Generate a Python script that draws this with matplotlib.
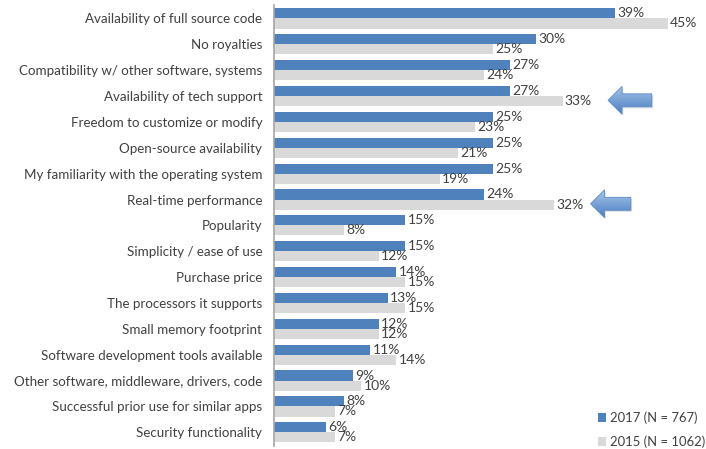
import numpy as np
import matplotlib.pyplot as plt
from matplotlib.patches import Polygon
from matplotlib.colors import LinearSegmentedColormap

# survey answers, top to bottom
factors = [
    'Availability of full source code',
    'No royalties',
    'Compatibility w/ other software, systems',
    'Availability of tech support',
    'Freedom to customize or modify',
    'Open-source availability',
    'My familiarity with the operating system',
    'Real-time performance',
    'Popularity',
    'Simplicity / ease of use',
    'Purchase price',
    'The processors it supports',
    'Small memory footprint',
    'Software development tools available',
    'Other software, middleware, drivers, code',
    'Successful prior use for similar apps',
    'Security functionality',
]
pct_2017 = [39, 30, 27, 27, 25, 25, 25, 24, 15, 15, 14, 13, 12, 11, 9, 8, 6]
pct_2015 = [45, 25, 24, 33, 23, 21, 19, 32, 8, 12, 15, 15, 12, 14, 10, 7, 7]
label_2017 = '2017 (N = 767)'
label_2015 = '2015 (N = 1062)'

# rows that get a callout arrow, and how far past the 2015 bar the tip sits
callouts = {3: 5.2, 7: 4.2}

BLUE = '#4F81BD'
GREY = '#D9D9D9'
TEXT = '#404040'

plt.rcParams['font.family'] = ['Lato', 'DejaVu Sans']

fig = plt.figure(figsize=(7.06, 4.49), dpi=100)
ax = fig.add_axes([274 / 706, 3 / 449, 432 / 706, 441 / 449])

y = np.arange(len(factors))
h = 0.39
ax.barh(y - h / 2, pct_2017, height=h, color=BLUE, label=label_2017)
ax.barh(y + h / 2, pct_2015, height=h, color=GREY, label=label_2015)

for yi, a, b in zip(y, pct_2017, pct_2015):
    ax.text(a + 0.25, yi - h / 2, f'{a}%', va='center', ha='left',
            fontsize=10, color=TEXT)
    ax.text(b + 0.25, yi + h / 2, f'{b}%', va='center', ha='left',
            fontsize=10, color=TEXT)

ax.set_yticks(y)
ax.set_yticklabels(factors, fontsize=9.6, color=TEXT)
ax.tick_params(axis='y', length=0, pad=8.5)
ax.set_xticks([])
for s in ['top', 'right', 'bottom']:
    ax.spines[s].set_visible(False)
ax.spines['left'].set_color('#A6A6A6')
ax.spines['left'].set_linewidth(1.2)

# left-pointing block arrows with a light-to-dark blue fill
grad = np.linspace(0, 1, 64).reshape(-1, 1)
arrow_cmap = LinearSegmentedColormap.from_list('arrow', ['#A7C5EA', '#4A7DC0'])
for row, off in callouts.items():
    yc = row + h / 2 - 0.03
    tip = pct_2015[row] + off
    base = tip + 1.6
    end = base + 3.4 if row == 3 else base + 3.0
    hh, sh = 0.54, 0.25
    pts = [(tip, yc), (base, yc - hh), (base, yc - sh), (end, yc - sh),
           (end, yc + sh), (base, yc + sh), (base, yc + hh)]
    shadow = Polygon([(px + 0.15, py + 0.06) for px, py in pts], closed=True,
                     facecolor='#BBBBBB', edgecolor='none', alpha=0.5, zorder=3)
    ax.add_patch(shadow)
    poly = Polygon(pts, closed=True, facecolor='none', edgecolor='#5B8BC9',
                   linewidth=0.6, zorder=5)
    ax.add_patch(poly)
    im = ax.imshow(grad, cmap=arrow_cmap, aspect='auto',
                   extent=(tip, end, yc + hh, yc - hh), zorder=4)
    im.set_clip_path(poly)

ax.set_xlim(0, 49.4)
ax.set_ylim(len(factors) - 0.47, -0.52)

leg = fig.legend(loc='center left', bbox_to_anchor=(598 / 706, 0.043),
                 frameon=False, fontsize=9.4, labelcolor=TEXT, borderpad=0,
                 handlelength=0.65, handleheight=0.65, handletextpad=0.3,
                 labelspacing=0.85, borderaxespad=0)

fig.savefig('out.png', dpi=100)
